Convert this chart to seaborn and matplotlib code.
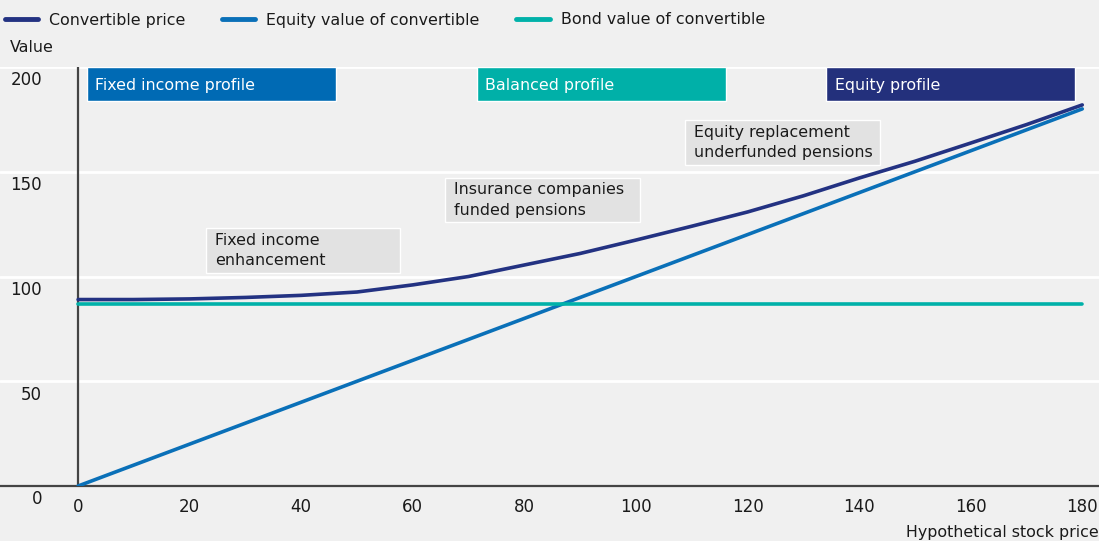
import numpy as np
import pandas as pd
import matplotlib.pyplot as plt
import seaborn as sns
from matplotlib.transforms import offset_copy

# Werte
stock_price = [0, 10, 20, 30, 40, 50, 60, 70, 80, 90, 100, 110, 120, 130, 140, 150, 160, 170, 180]
convertible_price = [89, 89, 89.3, 90, 91, 92.6, 96, 100, 105.5, 111, 117.4, 124, 130.8, 138.5, 147, 155, 163.7, 172.5, 181.9]
equity_value = [0, 10, 20, 30, 40, 50, 60, 70, 80, 90, 100, 110, 120, 130, 140, 150, 160, 170, 180]
bond_value = [87] * 19

series_names = ['Convertible price', 'Equity value of convertible', 'Bond value of convertible']
series_colors = ['#233282', '#0a70b8', '#00b1a9']

profile_labels = ['Fixed income profile', 'Balanced profile', 'Equity profile']
profile_start = [1.6, 71.5, 134.1]
profile_end = [46.3, 116.2, 178.7]
profile_colors = ['#006ab4', '#00b0a8', '#23307c']

investor_labels = ['Fixed income\nenhancement', 'Insurance companies\nfunded pensions',
                   'Equity replacement\nunderfunded pensions']
investor_start = [22.9, 65.8, 108.8]
investor_end = [57.7, 100.8, 143.8]
investor_top = [123.2, 147.0, 174.7]
investor_bottom = [101.7, 126.0, 153.2]

y_ticks = [0, 50, 100, 150, 200]
x_ticks = [0, 20, 40, 60, 80, 100, 120, 140, 160, 180]

df = pd.DataFrame({
    'price': stock_price * 3,
    'value': convertible_price + equity_value + bond_value,
    'series': [series_names[0]] * 19 + [series_names[1]] * 19 + [series_names[2]] * 19,
})

sns.set_theme(style='white')
plt.rcParams['font.family'] = ['DejaVu Sans']
bg = '#f0f0f0'
txt = '#1a1a1a'
fs = 11.4

fig = plt.figure(figsize=(10.99, 5.41), dpi=100, facecolor=bg)
ax = fig.add_axes([0, 1 - 486 / 541, 1, (486 - 67) / 541], facecolor=bg)

# Gitterlinien
for v in y_ticks[1:]:
    ax.axhline(v, color='white', lw=2, zorder=0)

sns.lineplot(data=df, x='price', y='value', hue='series', palette=series_colors,
             hue_order=series_names, lw=2.6, ax=ax, zorder=3)

ax.set_xlim(-14, 183)
ax.set_ylim(0, 200)
ax.axvline(0, color='#444444', lw=1.6, zorder=2)
for s in ['left', 'right', 'top']:
    ax.spines[s].set_visible(False)
ax.spines['bottom'].set_color('#444444')
ax.spines['bottom'].set_linewidth(1.6)
ax.set_xticks(x_ticks)
ax.set_xticklabels([str(t) for t in x_ticks], fontsize=12, color=txt)
ax.tick_params(axis='x', direction='out', length=6, width=1.3, color='#444444', pad=3)
ax.set_yticks([])
ax.set_xlabel('')
ax.set_ylabel('')

# Y-Beschriftungen unter den Gitterlinien
tr = offset_copy(ax.transData, fig=fig, x=0, y=-13.5, units='dots')
for v in y_ticks:
    ax.text(-6.45, v, str(v), transform=tr, ha='right', va='center', fontsize=12, color=txt)

# Profil-Balken
for lab, a, b, c in zip(profile_labels, profile_start, profile_end, profile_colors):
    ax.barh(191.9, b - a, left=a, height=16.2, color=c, zorder=4)
    ax.text(a + 1.5, 191.4, lab, ha='left', va='center', color='white', fontsize=fs, zorder=5)

# Anleger-Kästen
for lab, a, b, t, u in zip(investor_labels, investor_start, investor_end, investor_top, investor_bottom):
    ax.barh((t + u) / 2, b - a, left=a, height=t - u, color='#e2e2e2', zorder=1)
    ax.text(a + 1.6, (t + u) / 2, lab, ha='left', va='center', color=txt, fontsize=fs,
            linespacing=1.45, zorder=5)

leg = ax.legend(loc='center left', bbox_to_anchor=(5 / 1099, 1 - 20 / 541), bbox_transform=fig.transFigure,
                ncol=3, frameon=False, fontsize=fs, handlelength=2.1, handletextpad=0.7,
                columnspacing=2.3, borderaxespad=0, borderpad=0)
for h in leg.get_lines():
    h.set_linewidth(3.5)
for t in leg.get_texts():
    t.set_color(txt)

fig.text(10 / 1099, 1 - 48 / 541, 'Value', ha='left', va='center', fontsize=fs, color=txt)
fig.text(0.9995, 1 - 532 / 541, 'Hypothetical stock price', ha='right', va='center', fontsize=fs, color=txt)

fig.savefig('out.png', dpi=100, facecolor=bg)
